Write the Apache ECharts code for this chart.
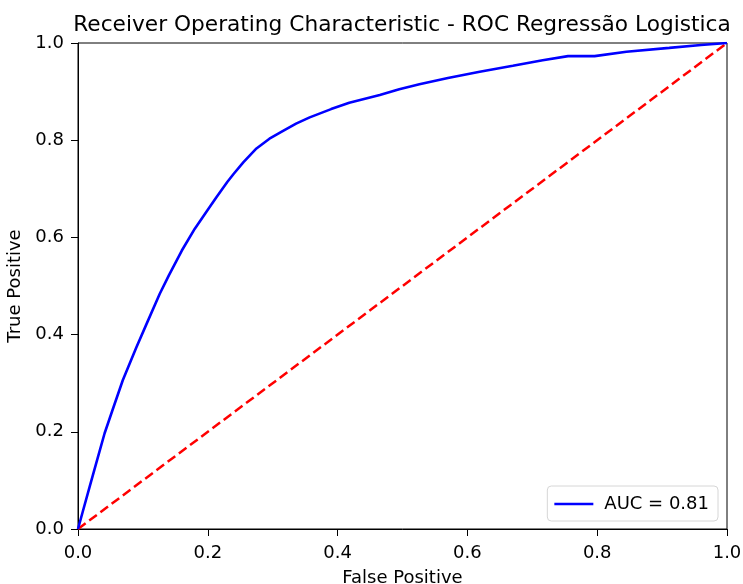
<!DOCTYPE html>
<html>
<head>
<meta charset="utf-8">
<script src="https://cdn.jsdelivr.net/npm/echarts@6/dist/echarts.min.js"></script>
<style>
  html, body { margin: 0; padding: 0; background: #fff; }
  #chart { width: 743px; height: 584px; }
</style>
</head>
<body>
<div id="chart"></div>
<script>
// ROC curve: false positive rate / true positive rate
const fpr = [0, 0.0074, 0.018, 0.028, 0.041, 0.054, 0.069, 0.09, 0.105, 0.126, 0.14, 0.16, 0.18, 0.2, 0.213, 0.23, 0.24, 0.255, 0.275, 0.295, 0.316, 0.336, 0.357, 0.39, 0.418, 0.465, 0.495, 0.526, 0.57, 0.619, 0.67, 0.716, 0.755, 0.796, 0.845, 0.911, 0.96, 1.0]
const tpr = [0, 0.036, 0.087, 0.135, 0.197, 0.248, 0.306, 0.374, 0.42, 0.484, 0.522, 0.573, 0.618, 0.657, 0.682, 0.714, 0.731, 0.755, 0.783, 0.803, 0.819, 0.834, 0.847, 0.864, 0.877, 0.893, 0.905, 0.915, 0.928, 0.941, 0.953, 0.9645, 0.973, 0.973, 0.982, 0.99, 0.996, 1.0]
const chanceX = [0, 1]
const chanceY = [0, 1]
const tickLabels = ['0.0', '0.2', '0.4', '0.6', '0.8', '1.0']
const aucLabel = 'AUC = 0.81'
const titleText = 'Receiver Operating Characteristic - ROC Regressão Logistica'

const font = 'DejaVu Sans'
const tickLabel = (v) => tickLabels[Math.round(v / 0.2)] ?? ''

const chart = echarts.init(document.getElementById('chart'))

const axisCommon = {
  type: 'value',
  min: 0,
  max: 1,
  interval: 0.2,
  splitLine: { show: false },
  axisLine: { show: true, lineStyle: { color: '#000', width: 1 } },
  axisTick: { show: true, inside: false, length: 7, lineStyle: { color: '#000', width: 1 } },
  axisLabel: { color: '#000', fontFamily: font, fontSize: 18, formatter: tickLabel },
  nameLocation: 'middle',
  nameTextStyle: { color: '#000', fontFamily: font, fontSize: 18 },
}

chart.setOption({
  animation: false,
  backgroundColor: '#fff',
  // title centred over the plot area, not the canvas
  graphic: [
    {
      type: 'text',
      x: 402,
      y: 25,
      style: {
        text: titleText,
        fill: '#000',
        font: '21.7px "DejaVu Sans"',
        textAlign: 'center',
        textVerticalAlign: 'middle',
      },
    },
  ],
  grid: {
    left: 78,
    right: 16,
    top: 43,
    bottom: 55,
    outerBoundsMode: 'none',
    show: true,
    borderColor: '#000',
    borderWidth: 1,
  },
  legend: {
    right: 25,
    bottom: 63,
    orient: 'vertical',
    padding: [9, 9, 8, 7],
    icon: 'rect',
    itemWidth: 39,
    itemHeight: 2.5,
    borderColor: '#d6d6d6',
    borderWidth: 1,
    borderRadius: 4,
    backgroundColor: 'rgba(255,255,255,0.8)',
    textStyle: { color: '#000', fontFamily: font, fontSize: 18, padding: [0, 0, 0, 6] },
    data: [aucLabel],
  },
  xAxis: Object.assign({}, axisCommon, {
    name: 'False Positive',
    nameGap: 40,
    axisLabel: Object.assign({}, axisCommon.axisLabel, { margin: 15 }),
  }),
  yAxis: Object.assign({}, axisCommon, {
    name: 'True Positive',
    nameGap: 46,
    axisLabel: Object.assign({}, axisCommon.axisLabel, { margin: 14 }),
  }),
  series: [
    {
      name: aucLabel,
      type: 'line',
      symbol: 'none',
      smooth: false,
      lineStyle: { color: '#0000ff', width: 2.6 },
      itemStyle: { color: '#0000ff' },
      data: fpr.map((x, i) => [x, tpr[i]]),
      z: 3,
    },
    {
      name: 'chance',
      type: 'line',
      symbol: 'none',
      lineStyle: { color: '#ff0000', width: 2.5, type: [9.5, 4.5] },
      data: chanceX.map((x, i) => [x, chanceY[i]]),
      z: 2,
    },
  ],
})
</script>
</body>
</html>
